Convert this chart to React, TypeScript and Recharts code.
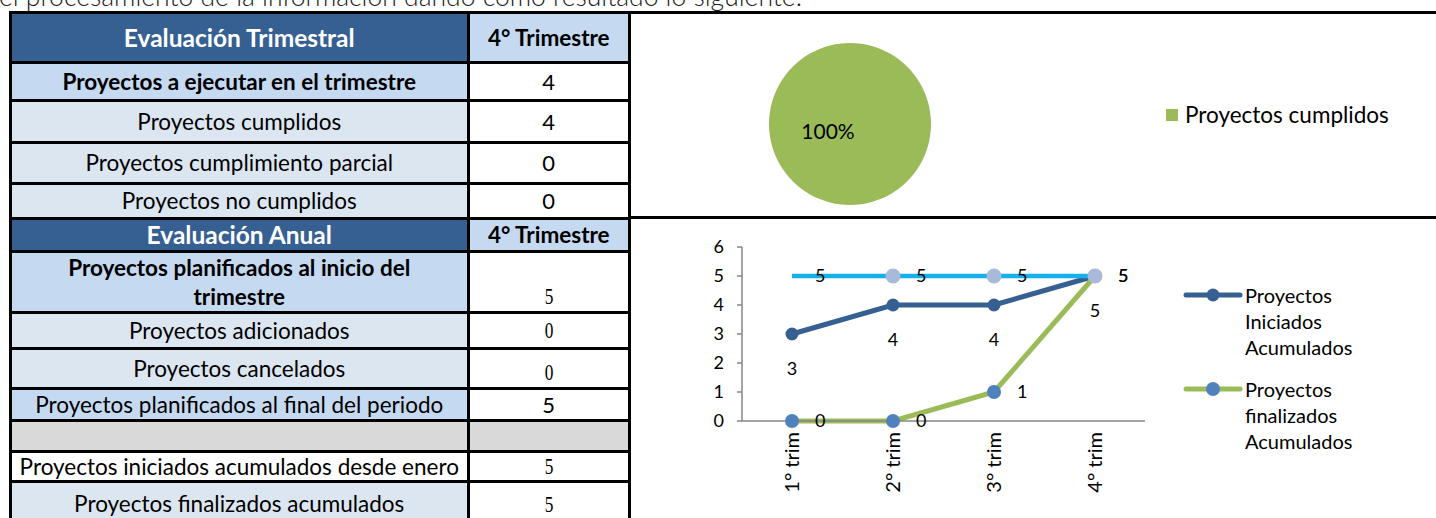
import React from "react";
import { PieChart, Pie, Cell, LineChart, Line, XAxis, YAxis, LabelList, Legend } from "recharts";

// ---------- data ----------
const introText = "el procesamiento de la información dando como resultado lo siguiente:";

const trimHeader = ["Evaluación Trimestral", "4° Trimestre"];
const trimLabels = [
  "Proyectos a ejecutar en el trimestre",
  "Proyectos cumplidos",
  "Proyectos cumplimiento parcial",
  "Proyectos no cumplidos",
];
const trimValues = ["4", "4", "0", "0"];

const anualHeader = ["Evaluación Anual", "4° Trimestre"];
const anualLabels = [
  "Proyectos planificados al inicio del\ntrimestre",
  "Proyectos adicionados",
  "Proyectos cancelados",
  "Proyectos planificados al final del periodo",
  "",
  "Proyectos iniciados acumulados desde enero",
  "Proyectos finalizados acumulados",
];
const anualValues = ["5", "0", "0", "5", "", "5", "5"];

const pieNames = ["Proyectos cumplidos"];
const pieValues = [4];

const categories = ["1° trim", "2° trim", "3° trim", "4° trim"];
const iniciados = [3, 4, 4, 5];
const finalizados = [0, 0, 1, 5];
const planificados = [5, 5, 5, 5];
const yTicks = [0, 1, 2, 3, 4, 5, 6];
const gridTicks = [0, 1, 2, 3, 4];

const seriesNames = {
  iniciados: "Proyectos Iniciados Acumulados",
  finalizados: "Proyectos finalizados Acumulados",
  planificados: "Proyectos planificados",
};

// ---------- styles ----------
const FONT = "Lato, 'Open Sans', sans-serif";
const SERIF = "'Liberation Serif', 'DejaVu Serif', serif";
const DARK = "#366092";
const LIGHT = "#C5D9F1";
const PALE = "#DCE6F1";
const GRAY = "#D9D9D9";

const COLORS = {
  iniciados: { line: "#376092", dot: "#376092", r: 6.5, w: 5 },
  finalizados: { line: "#9BBB59", dot: "#4F81BD", r: 7, w: 5 },
  planificados: { line: "#17B0EA", dot: "#A9B9D9", r: 7.5, w: 4.5 },
};

// table layout
const colEdges = [10, 468.5, 629];
const rowEdges = [12, 62, 100, 142, 183, 218, 251, 312, 348, 388, 420, 451, 481, 525];

type RowStyle = { bg: string; bold?: boolean; header?: boolean; vbg: string; serif?: boolean; valign?: "center" | "bottom"; pad?: number };
const rowStyles: RowStyle[] = [
  { bg: DARK, header: true, vbg: LIGHT },
  { bg: LIGHT, bold: true, vbg: "#fff" },
  { bg: PALE, vbg: "#fff" },
  { bg: PALE, vbg: "#fff" },
  { bg: PALE, vbg: "#fff" },
  { bg: DARK, header: true, vbg: LIGHT },
  { bg: LIGHT, bold: true, vbg: "#fff", serif: true, valign: "bottom", pad: 4 },
  { bg: PALE, vbg: "#fff", serif: true, valign: "center" },
  { bg: PALE, vbg: "#fff", serif: true, valign: "bottom", pad: 4 },
  { bg: LIGHT, vbg: "#fff" },
  { bg: GRAY, vbg: GRAY },
  { bg: "#fff", vbg: "#fff", serif: true },
  { bg: PALE, vbg: "#fff", serif: true, valign: "bottom", pad: 9 },
];

const Table = () => {
  const labels = [trimHeader[0], ...trimLabels, anualHeader[0], ...anualLabels];
  const values = [trimHeader[1], ...trimValues, anualHeader[1], ...anualValues];
  const cells: React.ReactNode[] = [];
  rowStyles.forEach((rs, i) => {
    const top = rowEdges[i];
    const h = rowEdges[i + 1] - top;
    cells.push(
      <div
        key={"l" + i}
        style={{
          position: "absolute",
          left: colEdges[0],
          top,
          width: colEdges[1] - colEdges[0],
          height: h,
          background: rs.bg,
          display: "flex",
          alignItems: "center",
          justifyContent: "center",
          textAlign: "center",
          whiteSpace: "pre-line",
          color: rs.header ? "#fff" : "#000",
          fontWeight: rs.header || rs.bold ? 700 : 400,
          fontSize: rs.header ? 24.5 : 22.5,
          lineHeight: "29px",
        }}
      >
        {labels[i]}
      </div>
    );
    cells.push(
      <div
        key={"v" + i}
        style={{
          position: "absolute",
          left: colEdges[1],
          top,
          width: colEdges[2] - colEdges[1],
          height: h,
          background: rs.vbg,
          display: "flex",
          alignItems: rs.valign === "bottom" ? "flex-end" : "center",
          justifyContent: "center",
          paddingBottom: rs.valign === "bottom" ? rs.pad || 4 : 0,
          boxSizing: "border-box",
          fontWeight: rs.header ? 700 : 400,
          fontSize: rs.header ? 22.5 : 22,
          color: "#000",
        }}
      >
        {rs.serif ? (
          <span style={{ fontFamily: SERIF, fontSize: 24, display: "inline-block", transform: "scaleX(0.72)", lineHeight: "24px" }}>{values[i]}</span>
        ) : (
          values[i]
        )}
      </div>
    );
  });
  rowEdges.forEach((y, i) => {
    cells.push(
      <div key={"h" + i} style={{ position: "absolute", left: colEdges[0] - 1.5, top: y - 1.5, width: colEdges[2] - colEdges[0] + 3, height: 3, background: "#000" }} />
    );
  });
  colEdges.forEach((x, i) => {
    cells.push(
      <div key={"c" + i} style={{ position: "absolute", left: x - 1.5, top: rowEdges[0] - 1.5, width: 3, height: 540, background: "#000" }} />
    );
  });
  return <>{cells}</>;
};

// ---------- pie ----------
const pieData = pieNames.map((n, i) => ({ name: n, value: pieValues[i] }));
const pieColors = ["#9BBB59"];

const renderPieLabel = (p: any) => (
  <text x={p.cx - 22} y={p.cy + 6} textAnchor="middle" dominantBaseline="central" fontSize={21} fontFamily={FONT} fill="#000">
    {`${Math.round(p.percent * 100)}%`}
  </text>
);

// ---------- line ----------
const lineData = categories.map((c, i) => ({
  cat: c,
  iniciados: iniciados[i],
  finalizados: finalizados[i],
  planificados: planificados[i],
}));

const XTick = (p: any) => {
  const { x, y, payload } = p;
  return (
    <text x={x} y={y} dy="0.35em" transform={`rotate(-90 ${x} ${y})`} textAnchor="end" fontSize={20} fontFamily={FONT} fill="#000">
      {payload.value}
    </text>
  );
};

const makeDot = (key: keyof typeof COLORS, skipFirst = false) => (p: any) => {
  const c = COLORS[key];
  if (skipFirst && p.index === 0) return <g key={p.key} />;
  return <circle key={p.key} cx={p.cx} cy={p.cy} r={c.r} fill={c.dot} stroke="none" />;
};

const LegendContent = (props: any) => {
  const items = (props.payload || []).filter((e: any) => e.type !== "none");
  return (
    <div style={{ fontFamily: FONT, fontSize: 20, lineHeight: "26px", color: "#000" }}>
      {items.map((e: any, i: number) => {
        const c = COLORS[e.dataKey as keyof typeof COLORS];
        return (
          <div key={i} style={{ display: "flex", alignItems: "flex-start", marginBottom: 16 }}>
            <svg width={60} height={26} style={{ flex: "none", marginRight: 2 }}>
              <line x1={3} y1={13} x2={57} y2={13} stroke={c.line} strokeWidth={c.w} strokeLinecap="round" />
              <circle cx={30} cy={13} r={c.r} fill={c.dot} />
            </svg>
            <div style={{ width: 130 }}>{e.value}</div>
          </div>
        );
      })}
    </div>
  );
};

export default function App() {
  return (
    <div style={{ position: "absolute", left: 0, top: 0, width: 1436, height: 518, overflow: "hidden", background: "#fff", fontFamily: FONT }}>
      <div style={{ position: "absolute", left: -1, top: -14, fontSize: 26.5, lineHeight: "20px", fontWeight: 300, color: "#1a1a1a", whiteSpace: "nowrap" }}>
        {introText}
      </div>

      <Table />

      {/* right side frame lines */}
      <div style={{ position: "absolute", left: 629, top: 10.5, width: 807, height: 3, background: "#000" }} />
      <div style={{ position: "absolute", left: 629, top: 216, width: 807, height: 2.5, background: "#000" }} />

      {/* pie */}
      <div style={{ position: "absolute", left: 765, top: 39 }}>
        <PieChart width={170} height={170} margin={{ top: 0, right: 0, bottom: 0, left: 0 }}>
          <Pie
            data={pieData}
            dataKey="value"
            nameKey="name"
            cx="50%"
            cy="50%"
            outerRadius={81}
            startAngle={90}
            endAngle={-270}
            stroke="none"
            isAnimationActive={false}
            label={renderPieLabel}
            labelLine={false}
          >
            {pieData.map((d, i) => (
              <Cell key={d.name} fill={pieColors[i]} />
            ))}
          </Pie>
        </PieChart>
      </div>
      <div style={{ position: "absolute", left: 1166, top: 102, fontSize: 22.5, lineHeight: "26px", color: "#000" }}>
        {pieData.map((d, i) => (
          <div key={d.name} style={{ display: "flex", alignItems: "center" }}>
            <span style={{ display: "inline-block", width: 12, height: 12, background: pieColors[i], marginRight: 7 }} />
            {d.name}
          </div>
        ))}
      </div>

      {/* line chart */}
      <div style={{ position: "absolute", left: 690, top: 230 }}>
        <LineChart width={746} height={288} data={lineData} margin={{ top: 17, right: 291, left: 0, bottom: 0 }}>
          <XAxis
            xAxisId="agrid"
            type="number"
            domain={[0, 4]}
            ticks={gridTicks}
            allowDataOverflow
            tick={false}
            tickSize={6}
            height={1}
            stroke="#868686"
            axisLine={{ stroke: "#868686", strokeWidth: 1.5 }}
            tickLine={{ stroke: "#868686", strokeWidth: 1.5 }}
          />
          <XAxis
            xAxisId="labels"
            dataKey="cat"
            padding={{ left: 50, right: 50 }}
            axisLine={false}
            tickLine={false}
            tickSize={0}
            tickMargin={10}
            height={96}
            interval={0}
            tick={<XTick />}
          />
          <YAxis
            domain={[0, 6]}
            ticks={yTicks}
            width={52}
            tickSize={5}
            tickMargin={13}
            interval={0}
            stroke="#868686"
            axisLine={{ stroke: "#868686", strokeWidth: 1.5 }}
            tickLine={{ stroke: "#868686", strokeWidth: 1.5 }}
            tick={{ fill: "#000", fontSize: 18, fontFamily: FONT }}
          />
          <Legend
            layout="vertical"
            align="center"
            verticalAlign="middle"
            wrapperStyle={{ left: 493, top: 52, width: 200 }}
            content={<LegendContent />}
          />
          <Line
            xAxisId="labels"
            dataKey="iniciados"
            name={seriesNames.iniciados}
            stroke={COLORS.iniciados.line}
            strokeWidth={COLORS.iniciados.w}
            dot={makeDot("iniciados")}
            activeDot={false}
            isAnimationActive={false}
          >
            <LabelList dataKey="iniciados" position="bottom" offset={28} fontSize={18} fontFamily={FONT} fill="#000" />
          </Line>
          <Line
            xAxisId="labels"
            dataKey="finalizados"
            name={seriesNames.finalizados}
            stroke={COLORS.finalizados.line}
            strokeWidth={COLORS.finalizados.w}
            dot={makeDot("finalizados")}
            activeDot={false}
            isAnimationActive={false}
          >
            <LabelList dataKey="finalizados" position="right" offset={23} fontSize={18} fontFamily={FONT} fill="#000" />
          </Line>
          <Line
            xAxisId="labels"
            dataKey="planificados"
            name={seriesNames.planificados}
            legendType="none"
            stroke={COLORS.planificados.line}
            strokeWidth={COLORS.planificados.w}
            dot={makeDot("planificados", true)}
            activeDot={false}
            isAnimationActive={false}
          >
            <LabelList dataKey="planificados" position="right" offset={23} fontSize={18} fontFamily={FONT} fill="#000" />
          </Line>
        </LineChart>
      </div>
    </div>
  );
}
